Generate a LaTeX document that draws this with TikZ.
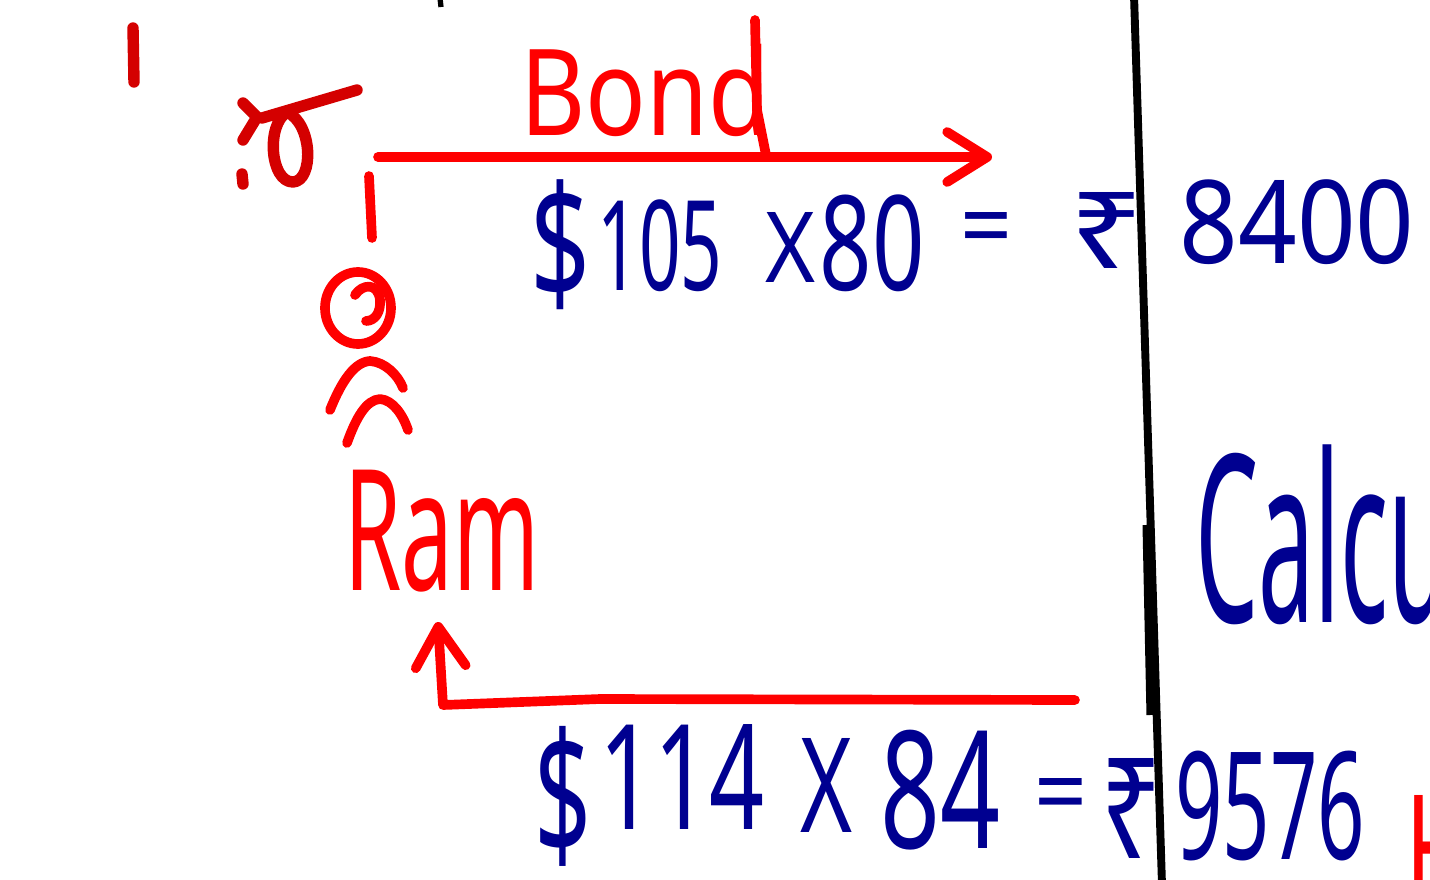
\documentclass[tikz,border=0pt]{standalone}
\usepackage{fontspec}
\setmainfont{Noto Sans}
\usepackage{graphicx}
\usetikzlibrary{arrows.meta}
\definecolor{pen}{HTML}{FF0000}
\definecolor{pendark}{HTML}{D40000}
\definecolor{ink}{HTML}{000090}
% hand-sized text: width, total height (cm), text
\newcommand{\hw}[3]{\resizebox*{#1cm}{#2cm}{#3}}

\begin{document}
\begin{tikzpicture}[x=0.02cm,y=-0.02cm,
  tok/.style={inner sep=0pt,outer sep=0pt},
  redpen/.style={draw=pen,line width=5.5pt,line cap=round,line join=round},
  darkpen/.style={draw=pendark,line width=6.5pt,line cap=round,line join=round},
  barb/.style={-{Straight Barb[length=0.8cm,width=1.0cm,round]}}]
  \useasboundingbox (0,0) rectangle (1430,879);
  \clip (0,0) rectangle (1430,879);
  % board divider
  \draw[black,line width=4.5pt] (1134,-5) -- (1162,885);
  \draw[black,line width=4pt] (1146,525) -- (1150,715);
  \draw[black,line width=3pt] (440,-2) -- (441,7);
  % marks top left
  \draw[darkpen] (133,28) -- (134,82);
  \draw[darkpen] (243,103) -- (257,117) -- (243,140);
  \draw[darkpen] (242,174) -- (243,184);
  \draw[darkpen] (287,112) .. controls (266,125) and (270,182) .. (293,182)
    .. controls (314,181) and (313,124) .. (287,112);
  \draw[darkpen] (262,118) -- (357,90);
  % person
  \draw[redpen] (358,308) ellipse (33 and 36);
  \draw[redpen] (355,295) .. controls (362,284) and (378,282) .. (380,300)
    .. controls (381,312) and (375,321) .. (366,321);
  \draw[redpen] (330,410) .. controls (342,380) and (355,362) .. (370,361)
    .. controls (385,362) and (398,375) .. (403,388);
  \draw[redpen] (347,443) .. controls (356,418) and (366,400) .. (380,399)
    .. controls (393,400) and (403,415) .. (408,430);
  % names
  \node[tok,text=pen] (ram) at (442,531) {\hw{3.9}{2.44}{Ram}};
  \node[tok,text=pen] (bond) at (645,90) {\hw{5.0}{1.85}{Bond}};
  % top flow: Ram -> Bond
  \coordinate (bondstart) at (378,157);
  \coordinate (bondtip) at (992,157);
  \draw[redpen] (369,176) -- (372,238);
  \draw[redpen] (755,20) -- (757,110) -- (766,155);
  \draw[redpen,barb] (bondstart) -- (bondtip);
  % bottom flow: back to Ram
  \coordinate (backstart) at (1075,700);
  \coordinate (backtip) at (438,622);
  \draw[redpen,barb] (backstart) -- (600,699) -- (443,705) -- (backtip);
  % first line
  \node[tok,text=ink] (d1) at (560,245) {\hw{1.2}{2.6}{\$}};
  \node[tok,text=ink] (n1) at (660,246) {\hw{2.5}{1.84}{105}};
  \node[tok,text=ink] (x1) at (790,247) {\hw{1.0}{1.4}{X}};
  \node[tok,text=ink] (m1) at (872,243) {\hw{2.1}{1.94}{80}};
  \node[tok,text=ink] (e1) at (986,236) {\hw{1.04}{0.94}{=}};
  \node[tok,text=ink] (r1) at (1107,230) {\hw{1.5}{1.52}{₹}};
  \node[tok,text=ink] (s1) at (1297,222) {\hw{4.7}{1.7}{8400}};
  % second line
  \node[tok,text=ink] (d2) at (563,796) {\hw{1.14}{2.8}{\$}};
  \node[tok,text=ink] (n2) at (682,777) {\hw{3.3}{2.1}{114}};
  \node[tok,text=ink] (x2) at (826,785) {\hw{1.04}{1.88}{X}};
  \node[tok,text=ink] (m2) at (940,790) {\hw{2.4}{2.4}{84}};
  \node[tok,text=ink] (e2) at (1061,802) {\hw{1.06}{0.96}{=}};
  \node[tok,text=ink] (r2) at (1131,808) {\hw{1.24}{2.0}{₹}};
  \node[tok,text=ink] (s2) at (1270,806) {\hw{3.8}{2.2}{9576}};
  % right panel
  \node[tok,text=ink,anchor=west] (calc) at (1195,535) {\hw{5.1}{3.6}{Calcu}};
  \node[tok,text=pen,anchor=west] (hcut) at (1405,850) {\hw{1.4}{2.2}{H}};
\end{tikzpicture}
\end{document}
